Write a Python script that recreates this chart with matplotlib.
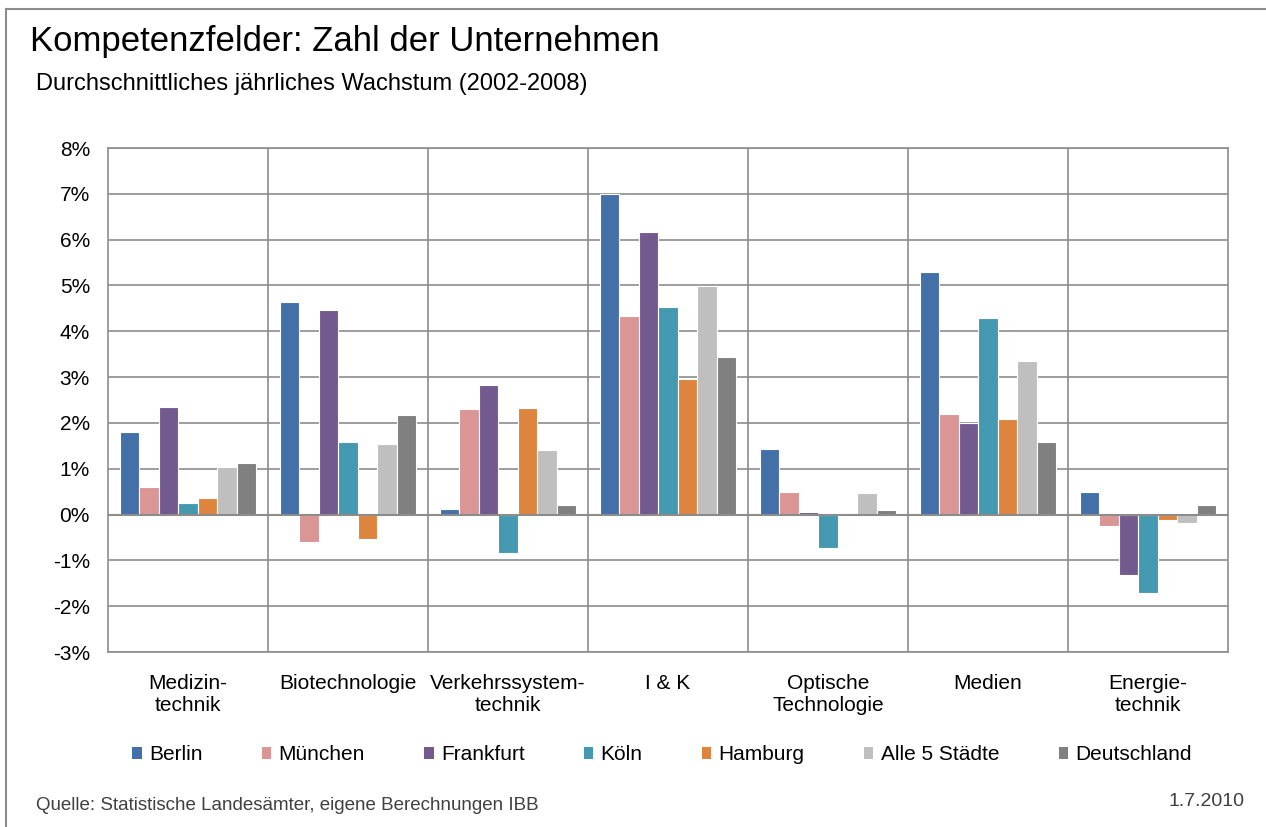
import matplotlib
matplotlib.use("Agg")
import matplotlib.pyplot as plt
from matplotlib.patches import Patch
from matplotlib.lines import Line2D
import numpy as np

plt.rcParams['font.family'] = ['Liberation Sans', 'DejaVu Sans']

categories = ["Medizin-\ntechnik", "Biotechnologie", "Verkehrssystem-\ntechnik", "I & K",
              "Optische\nTechnologie", "Medien", "Energie-\ntechnik"]
series_names = ["Berlin", "München", "Frankfurt", "Köln", "Hamburg", "Alle 5 Städte", "Deutschland"]
berlin      = [1.80, 4.64, 0.12, 7.00, 1.43, 5.30, 0.49]
muenchen    = [0.60, -0.59, 2.30, 4.34, 0.49, 2.20, -0.25]
frankfurt   = [2.34, 4.47, 2.83, 6.17, 0.06, 2.00, -1.31]
koeln       = [0.26, 1.58, -0.85, 4.53, -0.74, 4.30, -1.71]
hamburg     = [0.37, -0.54, 2.32, 2.96, 0.00, 2.09, -0.11]
alle5       = [1.04, 1.55, 1.40, 4.99, 0.46, 3.35, -0.19]
deutschland = [1.12, 2.18, 0.20, 3.44, 0.09, 1.58, 0.20]
colors = ["#4470A8", "#DA9694", "#725A8E", "#4499B0", "#DD843E", "#BFBFBF", "#808080"]
ytick_vals = list(range(-3, 9))
ytick_labels = [f"{v}%" for v in ytick_vals]

series = [berlin, muenchen, frankfurt, koeln, hamburg, alle5, deutschland]

W, H = 1266, 827
fig = plt.figure(figsize=(W / 100, H / 100), dpi=100)
ax = fig.add_axes([108 / W, 1 - 652 / H, (1228 - 108) / W, (652 - 148) / H])

x = np.arange(len(categories))
bw = 0.1215
for i, (vals, c) in enumerate(zip(series, colors)):
    ax.bar(x + (i - 3) * bw, vals, width=bw, color=c, edgecolor="white", linewidth=0.8,
           label=series_names[i], zorder=3)

ax.set_xlim(-0.5, len(categories) - 0.5)
ax.set_ylim(-3, 8)
ax.set_yticks(ytick_vals)
ax.set_yticklabels(ytick_labels, fontsize=15)
ax.yaxis.grid(True, color="#8C8C8C", linewidth=1.2, zorder=0)
for b in np.arange(0.5, len(categories) - 0.5, 1):
    ax.axvline(b, color="#8C8C8C", linewidth=1.2, zorder=0)
ax.axhline(0, color="#8C8C8C", linewidth=1.5, zorder=4)
for s in ax.spines.values():
    s.set_color("#8C8C8C")
    s.set_linewidth(1.2)
ax.tick_params(axis="y", length=0, pad=13)
ax.tick_params(axis="x", length=0, pad=16)
ax.set_xticks(x)
ax.set_xticklabels(categories, fontsize=15, va="top", linespacing=1.2)

handles = [Patch(facecolor=c, edgecolor="none") for c in colors]
fig.legend(handles, series_names, loc="center", bbox_to_anchor=(662 / W, 1 - 755 / H),
           ncol=7, frameon=False, fontsize=15, handlelength=0.45, handleheight=0.45,
           handletextpad=0.35, columnspacing=2.85)

fig.text(30 / W, 1 - 42 / H, "Kompetenzfelder: Zahl der Unternehmen", fontsize=25,
         va="center", ha="left", color="black")
fig.text(36 / W, 1 - 84 / H, "Durchschnittliches jährliches Wachstum (2002-2008)", fontsize=17,
         va="center", ha="left", color="black")
fig.text(36 / W, 1 - 806 / H, "Quelle: Statistische Landesämter, eigene Berechnungen IBB",
         fontsize=13.5, va="center", ha="left", color="#404040")
fig.text(1244 / W, 1 - 802 / H, "1.7.2010", fontsize=14, va="center", ha="right", color="#404040")

fig.add_artist(Line2D([6 / W, 1], [1 - 9 / H, 1 - 9 / H], color="#8C8C8C", linewidth=1.5,
                      transform=fig.transFigure))
fig.add_artist(Line2D([6 / W, 6 / W], [1 - 9 / H, 0], color="#8C8C8C", linewidth=1.5,
                      transform=fig.transFigure))

fig.savefig("out.png", dpi=100, facecolor="white")
